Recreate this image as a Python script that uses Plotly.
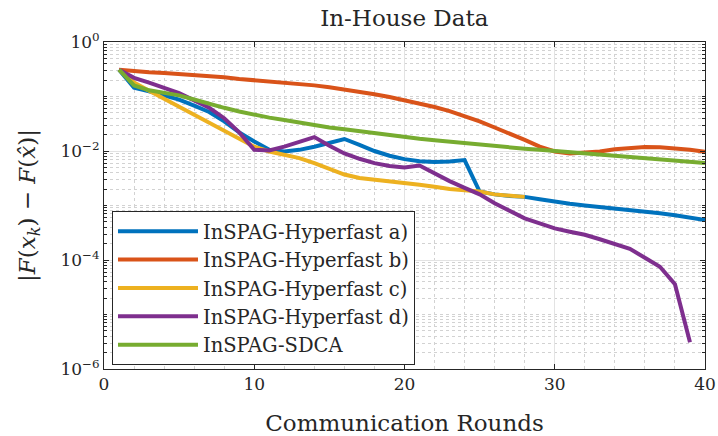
import plotly.graph_objects as go

rounds = list(range(1, 41))

hyper_a = [0.31, 0.145, 0.125, 0.105, 0.088, 0.068, 0.052, 0.035, 0.022, 0.015,
           0.0105, 0.0098, 0.0105, 0.012, 0.0142, 0.0166, 0.013, 0.0100, 0.0082, 0.0071,
           0.0065, 0.0063, 0.0064, 0.0068, 0.0018, 0.0016, 0.0015, 0.00144, 0.0013, 0.00117,
           0.00108, 0.00100, 0.00094, 0.00088, 0.00083, 0.00077, 0.00072, 0.00066, 0.00060, 0.00054]
hyper_b = [0.31, 0.29, 0.28, 0.27, 0.26, 0.25, 0.24, 0.225, 0.21, 0.20,
           0.19, 0.18, 0.17, 0.16, 0.148, 0.135, 0.123, 0.11, 0.098, 0.086,
           0.075, 0.064, 0.054, 0.044, 0.035, 0.027, 0.021, 0.016, 0.012, 0.0098,
           0.0090, 0.0092, 0.0098, 0.0108, 0.0115, 0.0118, 0.0117, 0.0112, 0.0105, 0.0097]
hyper_c = [0.31, 0.18, 0.128, 0.091, 0.065, 0.047, 0.033, 0.024, 0.017, 0.012,
           0.0098, 0.0086, 0.0074, 0.0060, 0.0047, 0.0037, 0.0032, 0.0030, 0.0028, 0.0026,
           0.0024, 0.0022, 0.0020, 0.0019, 0.0018, 0.0016, 0.0015, 0.00144]
hyper_d = [0.31, 0.22, 0.18, 0.145, 0.115, 0.085, 0.062, 0.040, 0.022, 0.0105,
           0.0102, 0.012, 0.0145, 0.018, 0.0125, 0.009, 0.0072, 0.0060, 0.0053, 0.0050,
           0.0054, 0.0038, 0.0028, 0.0021, 0.0016, 0.0011, 0.00078, 0.00058, 0.00047, 0.00038,
           0.00033, 0.00029, 0.00024, 0.00020, 0.00016, 0.00011, 0.000075, 0.000036, 0.0000031]
sdca = [0.31, 0.16, 0.13, 0.116, 0.105, 0.088, 0.073, 0.062, 0.053, 0.046,
        0.041, 0.037, 0.033, 0.030, 0.027, 0.025, 0.023, 0.021, 0.0195, 0.018,
        0.0168, 0.0158, 0.0148, 0.0140, 0.0132, 0.0124, 0.0117, 0.0110, 0.0105, 0.0100,
        0.0095, 0.0090, 0.0086, 0.0082, 0.0078, 0.0074, 0.0070, 0.0066, 0.0063, 0.0060]

names = ["InSPAG-Hyperfast a)", "InSPAG-Hyperfast b)", "InSPAG-Hyperfast c)",
         "InSPAG-Hyperfast d)", "InSPAG-SDCA"]
series = [hyper_a, hyper_b, hyper_c, hyper_d, sdca]
colors = ["#0072BD", "#D95319", "#EDB120", "#7E2F8E", "#77AC30"]

y_major = [1e-6, 1e-4, 1e-2, 1e0]
y_major_text = ["10<sup>−6</sup>", "10<sup>−4</sup>", "10<sup>−2</sup>", "10<sup>0</sup>"]
y_minor = [k * 10.0 ** e for e in range(-6, 0) for k in range(1, 10) if not (k == 1 and e % 2 == 0)]

FONT = "DejaVu Serif"
TXT = "#262626"
fig = go.Figure()
for name, ys, c in zip(names, series, colors):
    fig.add_trace(go.Scatter(x=rounds[:len(ys)], y=ys, mode="lines", name=name,
                             line=dict(color=c, width=4)))

axis_common = dict(showline=True, linecolor=TXT, linewidth=1, mirror="ticks",
                   ticks="inside", ticklen=5, tickcolor=TXT, automargin=False,
                   showgrid=True, gridcolor="#e3e3e3", gridwidth=1, zeroline=False,
                   tickfont=dict(family=FONT, size=17, color=TXT))

fig.update_xaxes(range=[0, 40], tickvals=[0, 10, 20, 30, 40],
                 title=dict(text="Communication Rounds", font=dict(family=FONT, size=23, color=TXT),
                            standoff=22),
                 minor=dict(dtick=2, showgrid=True, gridcolor="#d2d2d2", griddash="dot", ticks=""),
                 **axis_common)
fig.update_yaxes(type="log", range=[-6, 0], tickvals=y_major, ticktext=y_major_text,
                 title=dict(text="|<i>F</i>(<i>x<sub>k</sub></i>) − <i>F</i>(<i>x̂</i>)|",
                            font=dict(family=FONT, size=23, color=TXT), standoff=18),
                 minor=dict(tickvals=y_minor, showgrid=True, gridcolor="#d2d2d2", griddash="dot",
                            ticks="inside", ticklen=3, tickcolor=TXT),
                 **axis_common)

fig.update_layout(
    width=718, height=436,
    margin=dict(l=104, r=13, t=42, b=67),
    paper_bgcolor="white", plot_bgcolor="white",
    title=dict(text="In-House Data", x=0.5631, xanchor="center", y=0.978, yanchor="top",
               font=dict(family=FONT, size=23, color=TXT)),
    legend=dict(x=0.0133, y=0.483, xanchor="left", yanchor="top",
                bgcolor="white", bordercolor=TXT, borderwidth=1,
                font=dict(family=FONT, size=19.5, color=TXT),
                itemwidth=80, tracegroupgap=0),
    showlegend=True,
)

fig.write_html("out.html")
